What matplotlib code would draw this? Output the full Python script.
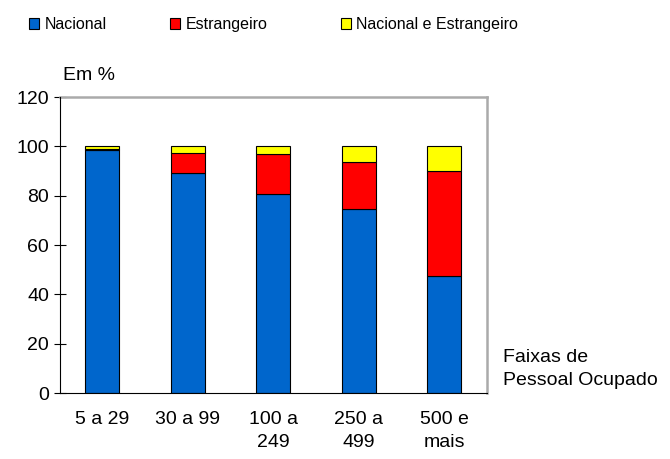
import matplotlib
matplotlib.use("Agg")
import matplotlib.pyplot as plt
import numpy as np

plt.rcParams['font.family'] = ['Liberation Sans', 'DejaVu Sans']

categories = ["5 a 29", "30 a 99", "100 a\n249", "250 a\n499", "500 e\nmais"]
nacional = [98.5, 89.0, 80.5, 74.5, 47.5]
estrangeiro = [0.5, 8.5, 16.5, 19.0, 42.5]
nac_estr = [1.0, 2.5, 3.0, 6.5, 10.0]
series_names = ["Nacional", "Estrangeiro", "Nacional e Estrangeiro"]
colors = ["#0066CC", "#FF0000", "#FFFF00"]

W, H = 670, 459
fig = plt.figure(figsize=(W/100, H/100), dpi=100)
L, R, T, B = 59.5, 487, 97, 393
ax = fig.add_axes([L/W, 1-B/H, (R-L)/W, (B-T)/H])

x = np.arange(len(categories))
w = 0.40
bottom = np.zeros(len(categories))
handles = []
for vals, name, c in zip([nacional, estrangeiro, nac_estr], series_names, colors):
    b = ax.bar(x, vals, w, bottom=bottom, color=c, edgecolor='black', linewidth=0.8, label=name, zorder=3)
    handles.append(b)
    bottom += np.array(vals)

ax.set_xlim(-0.5, len(categories) - 0.5)
ax.set_ylim(0, 120)
ax.set_yticks(np.arange(0, 121, 20))
ax.set_xticks(x)
ax.set_xticklabels(categories, fontsize=14, linespacing=1.45)
ax.tick_params(axis='y', labelsize=14, direction='inout', length=9, pad=3)
ax.tick_params(axis='x', length=0, pad=13)
for s in ['top', 'right']:
    ax.spines[s].set_color('#aaaaaa')
    ax.spines[s].set_linewidth(1.8)
for s in ['left', 'bottom']:
    ax.spines[s].set_color('black')
    ax.spines[s].set_zorder(4)

fig.text(63/W, 1-75/H, "Em %", fontsize=14, ha='left', va='center')
fig.text(503/W, 1-369/H, "Faixas de\nPessoal Ocupado", fontsize=14, ha='left', va='center', linespacing=1.45)

leg_x = [29, 170, 341]
for h, name, lx in zip(handles, series_names, leg_x):
    fig.legend(handles=[h], labels=[name], loc='upper left', bbox_to_anchor=(lx/W, 1-17/H),
               frameon=False, fontsize=11.5, handlelength=0.62, handleheight=0.62,
               handletextpad=0.35, borderpad=0, borderaxespad=0)

fig.savefig("out.png", dpi=100)
